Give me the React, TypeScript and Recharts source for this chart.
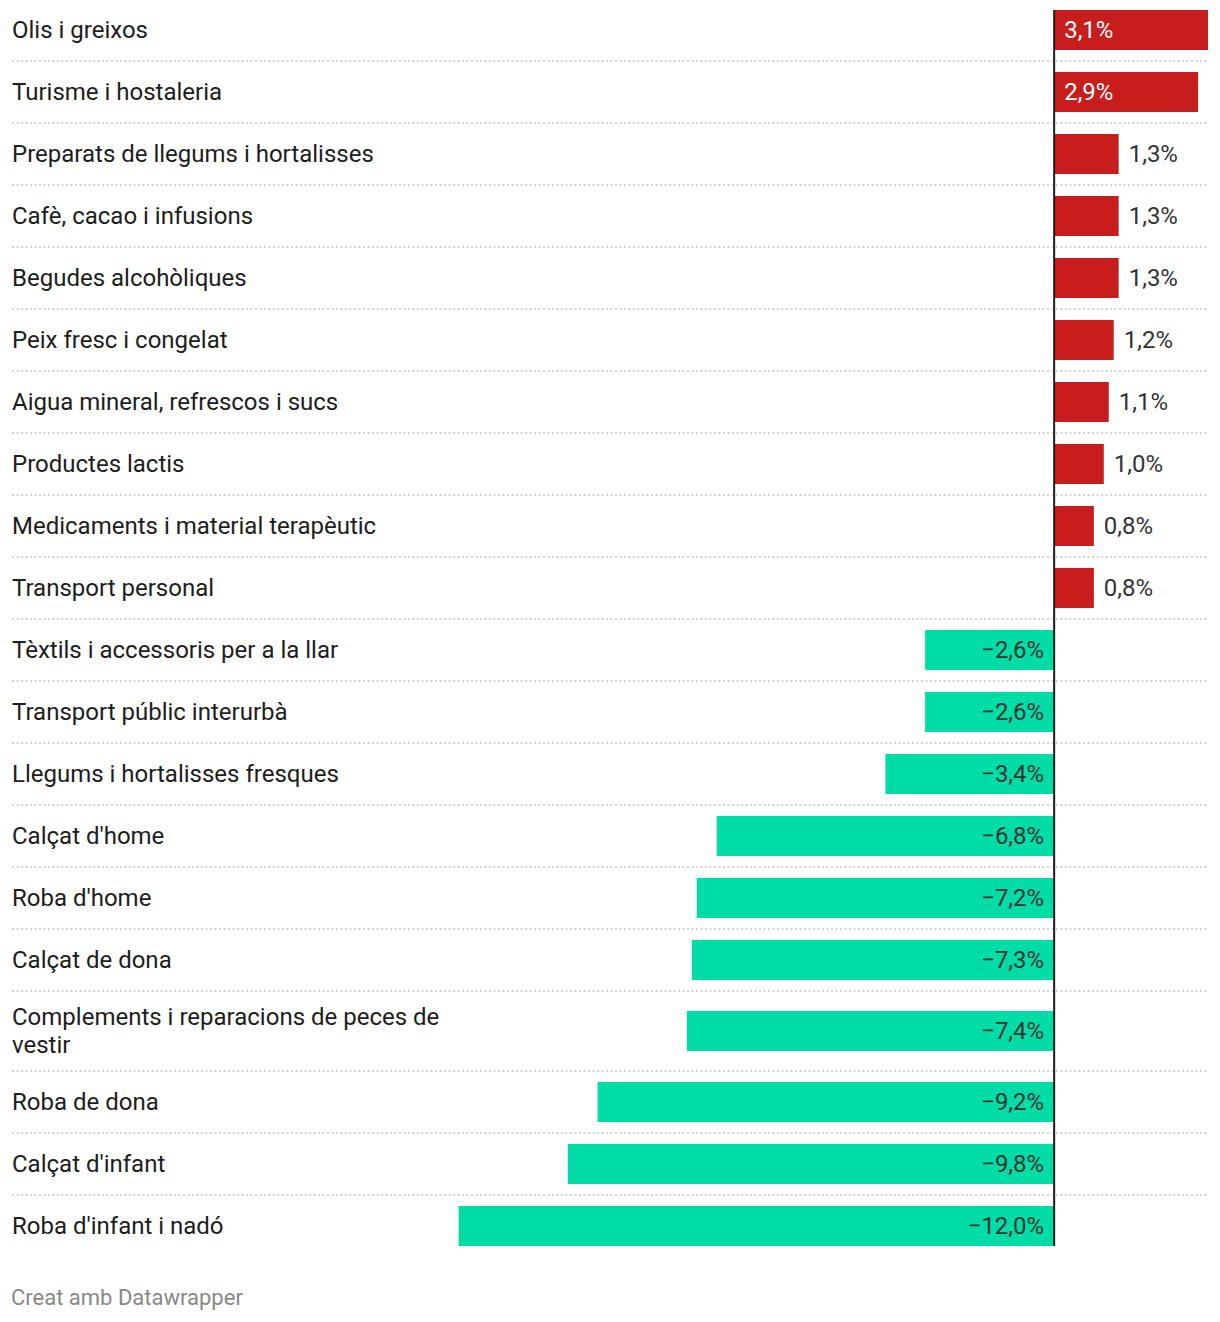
import React from "react";
import {
    ComposedChart,
    Bar,
    XAxis,
    YAxis,
    ReferenceLine,
    LabelList,
    Cell,
} from "recharts";

const categories: string[] = [
    "Olis i greixos",
    "Turisme i hostaleria",
    "Preparats de llegums i hortalisses",
    "Cafè, cacao i infusions",
    "Begudes alcohòliques",
    "Peix fresc i congelat",
    "Aigua mineral, refrescos i sucs",
    "Productes lactis",
    "Medicaments i material terapèutic",
    "Transport personal",
    "Tèxtils i accessoris per a la llar",
    "Transport públic interurbà",
    "Llegums i hortalisses fresques",
    "Calçat d'home",
    "Roba d'home",
    "Calçat de dona",
    "Complements i reparacions de peces de vestir",
    "Roba de dona",
    "Calçat d'infant",
    "Roba d'infant i nadó",
];

const values: number[] = [
    3.1, 2.9, 1.3, 1.3, 1.3, 1.2, 1.1, 1.0, 0.8, 0.8, -2.6, -2.6, -3.4, -6.8,
    -7.2, -7.3, -7.4, -9.2, -9.8, -12.0,
];

const xDomain: [number, number] = [-21, 3.1];

const RED = "#c71e1d";
const GREEN = "#00dca6";
const TEXT = "#1d1d1d";
const FONT = "Roboto, sans-serif";

const ROW_H = 62;
const LINE_H = 28;
const BAR_H = 40;
const WRAP = 38;

// split long labels into lines of at most WRAP characters
function wrap(label: string): string[] {
    const words = label.split(" ");
    const lines: string[] = [];
    let cur = "";
    words.forEach((w) => {
        const next = cur ? cur + " " + w : w;
        if (next.length > WRAP && cur) {
            lines.push(cur);
            cur = w;
        } else {
            cur = next;
        }
    });
    if (cur) lines.push(cur);
    return lines;
}

// row heights grow with wrapped labels, positions are row centres
const rowHeights = categories.map(
    (c) => ROW_H + (wrap(c).length - 1) * (LINE_H - 10)
);
let acc = 0;
const rows = categories.map((name, i) => {
    const top = acc;
    acc += rowHeights[i];
    return { name, value: values[i], pos: top + rowHeights[i] / 2, bottom: acc };
});
const totalH = acc;

const fmt = (v: number) =>
    (v < 0 ? "\u2212" : "") + Math.abs(v).toFixed(1).replace(".", ",") + "%";

function CategoryLabel(props: any) {
    const { y, height, value } = props;
    const lines = wrap(String(value));
    const start = y + height / 2 - ((lines.length - 1) * LINE_H) / 2;
    return (
        <text fill={TEXT} fontSize={24} fontFamily={FONT}>
            {lines.map((l, i) => (
                <tspan
                    key={i}
                    x={12}
                    y={start + i * LINE_H}
                    dominantBaseline="central"
                >
                    {l}
                </tspan>
            ))}
        </text>
    );
}

function ValueLabel(props: any) {
    const { x, y, width, height, value } = props;
    const cy = y + height / 2;
    if (value < 0) {
        // negative bars run leftwards from zero
        const zero = Math.max(x, x + width);
        return (
            <text
                x={zero - 10}
                y={cy}
                textAnchor="end"
                dominantBaseline="central"
                fill="#333"
                fontSize={24}
                fontFamily={FONT}
            >
                {fmt(value)}
            </text>
        );
    }
    const inside = value >= 2;
    return (
        <text
            x={inside ? x + 10 : x + width + 10}
            y={cy}
            dominantBaseline="central"
            fill={inside ? "#fff" : "#333"}
            fontSize={24}
            fontFamily={FONT}
        >
            {fmt(value)}
        </text>
    );
}

export default function App() {
    const first = rows[0];
    const last = rows[rows.length - 1];
    return (
        <div style={{ position: "absolute", left: 0, top: -1, width: 1220 }}>
            <ComposedChart
                width={1220}
                height={totalH}
                data={rows}
                layout="vertical"
                margin={{ top: 0, right: 12, bottom: 0, left: 12 }}
            >
                <XAxis type="number" domain={xDomain} hide allowDataOverflow />
                <YAxis
                    type="number"
                    dataKey="pos"
                    domain={[0, totalH]}
                    hide
                />
                {rows.slice(0, -1).map((r) => (
                    <ReferenceLine
                        key={r.name}
                        y={r.bottom}
                        stroke="#d4d4d4"
                        strokeWidth={2}
                        strokeDasharray="2 2.5"
                    />
                ))}
                <Bar dataKey="value" barSize={BAR_H} isAnimationActive={false}>
                    {rows.map((r) => (
                        <Cell key={r.name} fill={r.value >= 0 ? RED : GREEN} />
                    ))}
                    <LabelList dataKey="value" content={<ValueLabel />} />
                    <LabelList dataKey="name" content={<CategoryLabel />} />
                </Bar>
                <ReferenceLine
                    segment={[
                        { x: 0, y: first.pos - BAR_H / 2 },
                        { x: 0, y: last.pos + BAR_H / 2 },
                    ]}
                    stroke={TEXT}
                    strokeWidth={2}
                />
            </ComposedChart>
            <div
                style={{
                    position: "absolute",
                    left: 11,
                    top: 1286,
                    fontFamily: FONT,
                    fontSize: 22,
                    color: "#888",
                }}
            >
                Creat amb Datawrapper
            </div>
        </div>
    );
}
